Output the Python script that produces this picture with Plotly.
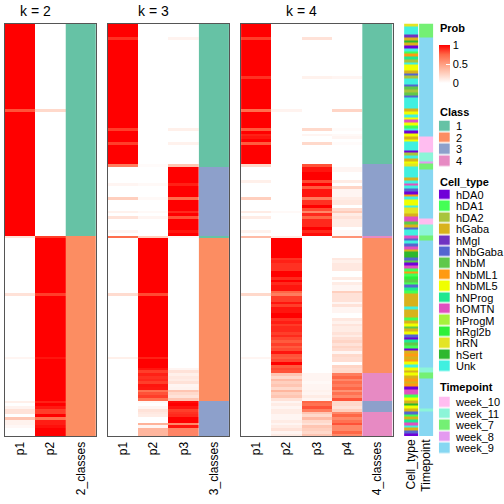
import plotly.graph_objects as go

N_ROWS = 150
FONT = "Liberation Sans, Arial, Helvetica, sans-serif"

prob_colorscale = [[0, "#ffffff"], [0.25, "#ffcfbe"], [0.5, "#ff9e81"], [0.75, "#ff6746"], [1, "#ff0000"]]

class_labels = ["1", "2", "3", "4"]
class_colors = ["#66c2a5", "#fc8d62", "#8da0cb", "#e78ac3"]

celltype_labels = ["hDA0", "hDA1", "hDA2", "hGaba", "hMgl", "hNbGaba", "hNbM", "hNbML1",
                   "hNbML5", "hNProg", "hOMTN", "hProgM", "hRgl2b", "hRN", "hSert", "Unk"]
celltype_colors = ["#7000d8", "#44ff55", "#a8c43c", "#d8b21c", "#7033c2", "#5466d0", "#60c84a", "#ff9a12",
                   "#f0ff00", "#20e890", "#e050c0", "#a6f23c", "#2ef03a", "#e4e424", "#2eb82e", "#40f0e0"]

timepoint_labels = ["week_10", "week_11", "week_7", "week_8", "week_9"]
timepoint_colors = ["#ffbdf0", "#8cf5d8", "#74f074", "#e49af0", "#87d7f2"]

# segments: (rows, class, p1, p2, ...)
k2_segments = [
    (31, 1, 1.0, 0.0), (1, 1, 0.8, 0.2), (45, 1, 1.0, 0.0),
    (1, 2, 0.15, 0.85), (20, 2, 0.0, 1.0), (1, 2, 0.15, 0.85), (22, 2, 0.0, 1.0),
    (1, 2, 0.05, 0.95), (15, 2, 0.0, 1.0), (1, 2, 0.08, 0.92), (1, 2, 0.0, 1.0),
    (1, 2, 0.06, 0.94), (2, 2, 0.15, 0.85), (1, 2, 0.0, 1.0), (1, 2, 0.3, 0.7),
    (2, 2, 0.07, 0.93), (1, 2, 0.04, 0.96), (3, 2, 0.0, 1.0),
]

k3_segments = [
    (5, 1, 1, 0, 0), (1, 1, 0.88, 0, 0.06), (32, 1, 1, 0, 0), (1, 1, 0.85, 0, 0.08),
    (4, 1, 1, 0, 0), (1, 1, 0.85, 0, 0.07), (7, 1, 1, 0, 0), (1, 1, 0.65, 0.02, 0.3),
    (6, 3, 0, 0, 1), (1, 3, 0.05, 0.03, 0.92), (4, 3, 0, 0, 1), (1, 3, 0.25, 0.03, 0.72),
    (4, 3, 0, 0, 1), (1, 3, 0.07, 0.03, 0.9), (1, 3, 0, 0, 1), (1, 3, 0.15, 0.05, 0.8),
    (4, 3, 0, 0, 1), (1, 3, 0.05, 0, 0.95), (1, 3, 0, 0, 1),
    (1, 1, 0.72, 0.25, 0.03),
    (20, 2, 0, 1, 0), (1, 2, 0.18, 0.82, 0), (22, 2, 0, 1, 0), (1, 2, 0.08, 0.92, 0),
    (3, 2, 0, 1, 0), (1, 2, 0, 0.95, 0.05), (1, 2, 0, 0.85, 0.15), (1, 2, 0, 0.92, 0.08),
    (1, 2, 0, 0.88, 0.12), (1, 2, 0, 0.9, 0.1), (1, 2, 0, 0.85, 0.15), (1, 2, 0, 0.95, 0.05),
    (1, 2, 0, 0.94, 0.06), (1, 2, 0, 0.7, 0.3), (1, 2, 0, 0.8, 0.2), (1, 2, 0, 0.85, 0.15),
    (1, 2, 0, 0.7, 0.3),
    (1, 3, 0, 0.03, 0.97), (1, 3, 0, 0, 1), (1, 3, 0, 0.05, 0.95), (1, 3, 0, 0.15, 0.85),
    (1, 3, 0, 0.12, 0.88), (1, 3, 0, 0.1, 0.9), (2, 3, 0, 0, 1), (1, 3, 0, 0.4, 0.6),
    (1, 3, 0, 0.05, 0.95), (3, 3, 0, 0.38, 0.62),
]

k4_segments = [
    (5, 1, 1, 0, 0, 0), (1, 1, 0.85, 0, 0.15, 0), (13, 1, 1, 0, 0, 0), (1, 1, 0.88, 0, 0.07, 0.05),
    (11, 1, 1, 0, 0, 0), (1, 1, 0.72, 0.06, 0, 0.22), (6, 1, 1, 0, 0, 0), (1, 1, 0.78, 0, 0.2, 0.02),
    (1, 1, 1, 0, 0, 0), (1, 1, 0.92, 0, 0.05, 0.03), (1, 1, 0.95, 0, 0, 0.05), (1, 1, 1, 0, 0, 0),
    (1, 1, 0.78, 0, 0.2, 0.02), (7, 1, 1, 0, 0, 0),
    (1, 3, 0.2, 0, 0.8, 0), (2, 3, 0, 0, 0.95, 0.05), (3, 3, 0, 0, 1, 0), (1, 3, 0.08, 0, 0.82, 0.1),
    (1, 3, 0, 0, 1, 0), (1, 3, 0, 0, 0.78, 0.22), (3, 3, 0, 0, 0.95, 0.05), (1, 3, 0.25, 0, 0.65, 0.1),
    (2, 3, 0, 0, 0.88, 0.12), (1, 3, 0, 0, 1, 0), (1, 3, 0, 0, 0.82, 0.18), (1, 3, 0.1, 0.03, 0.6, 0.27),
    (1, 3, 0, 0, 0.9, 0.1), (1, 3, 0.1, 0, 0.75, 0.15), (3, 3, 0, 0, 0.9, 0.1), (1, 3, 0, 0, 1, 0),
    (1, 3, 0.07, 0, 0.9, 0.03), (1, 3, 0, 0, 0.97, 0.03),
    (1, 4, 0.35, 0.1, 0, 0.55),
    (7, 2, 0, 1, 0, 0), (1, 2, 0, 0.88, 0, 0.12), (1, 2, 0, 0.92, 0, 0.08), (3, 2, 0, 0.88, 0, 0.12),
    (2, 2, 0, 1, 0, 0), (1, 2, 0, 0.9, 0, 0.1), (1, 2, 0, 1, 0, 0), (1, 2, 0, 0.9, 0, 0.1),
    (2, 2, 0, 0.95, 0, 0.05), (1, 2, 0, 0.75, 0, 0.25), (1, 2, 0.2, 0.65, 0, 0.15),
    (2, 2, 0, 0.85, 0, 0.15), (1, 2, 0, 0.95, 0, 0.05), (1, 2, 0, 0.85, 0, 0.15),
    (2, 2, 0, 0.95, 0, 0.05), (2, 2, 0, 1, 0, 0), (1, 2, 0, 0.88, 0, 0.12), (1, 2, 0, 0.93, 0, 0.07),
    (1, 2, 0, 0.86, 0, 0.14), (2, 2, 0, 0.9, 0, 0.1), (1, 2, 0, 0.85, 0, 0.15), (1, 2, 0, 0.9, 0, 0.1),
    (1, 2, 0, 0.83, 0, 0.17), (1, 2, 0, 0.78, 0, 0.22), (1, 2, 0, 0.85, 0, 0.15), (1, 2, 0, 0.78, 0, 0.22),
    (1, 2, 0, 0.82, 0, 0.18), (1, 2, 0, 0.95, 0, 0.05), (1, 2, 0, 0.8, 0, 0.2), (1, 2, 0.05, 0.78, 0, 0.17),
    (1, 2, 0, 0.83, 0, 0.17), (1, 2, 0, 1, 0, 0), (1, 2, 0, 0.78, 0, 0.22), (1, 2, 0, 0.82, 0, 0.18),
    (1, 2, 0, 0.8, 0, 0.2),
    (1, 4, 0, 0.3, 0.05, 0.65), (1, 4, 0, 0.2, 0.05, 0.75), (1, 4, 0, 0.35, 0.05, 0.6),
    (1, 4, 0, 0.25, 0.03, 0.72), (1, 4, 0, 0.3, 0.05, 0.65), (1, 4, 0, 0.2, 0.05, 0.75),
    (1, 4, 0, 0.38, 0.07, 0.55), (1, 4, 0, 0.25, 0.05, 0.7), (1, 4, 0, 0.3, 0.1, 0.6),
    (1, 4, 0, 0.15, 0.05, 0.8),
    (1, 3, 0, 0.05, 0.75, 0.2), (1, 3, 0, 0.1, 0.7, 0.2), (1, 3, 0, 0.05, 0.8, 0.15), (1, 3, 0, 0.1, 0.65, 0.25),
    (1, 4, 0, 0.1, 0.3, 0.6), (1, 4, 0, 0.05, 0.2, 0.75), (1, 4, 0, 0.05, 0.35, 0.6),
    (1, 4, 0, 0.1, 0.2, 0.7), (1, 4, 0, 0.05, 0.15, 0.8), (1, 4, 0, 0.1, 0.3, 0.6),
    (1, 4, 0, 0.15, 0.25, 0.6), (1, 4, 0, 0.05, 0.2, 0.75), (1, 4, 0, 0.1, 0.3, 0.6),
]

celltype_rows = [
    "hRN", "Unk", "Unk", "Unk", "hMgl", "hGaba", "hSert", "hGaba", "hDA0", "Unk",
    "hDA1", "hNbML1", "hNProg", "hDA2", "Unk", "hNbML5", "hNbML5", "hGaba", "hNbGaba", "hDA2",
    "Unk", "Unk", "hNbGaba", "hNbM", "hDA2", "hNbM", "hNbGaba", "Unk", "Unk", "Unk",
    "Unk", "hGaba", "hNbML5", "Unk", "hNbML5", "hOMTN", "hNbML5", "hDA1", "Unk", "hDA0",
    "hNbML5", "hGaba", "hNbML5", "Unk", "Unk", "Unk", "hDA0", "hDA2", "Unk", "hGaba",
    "hNbML5", "hRN", "Unk", "Unk", "Unk", "Unk", "hGaba", "Unk", "hOMTN", "Unk",
    "hNbGaba", "hDA0", "hNbML1", "Unk", "hNbML5", "hNbML5", "Unk", "hRN", "hRN", "hGaba",
    "hOMTN", "hOMTN", "hNbM", "hGaba", "hNbGaba", "Unk", "Unk", "hOMTN", "hNbGaba", "Unk",
    "hNbGaba", "hOMTN", "hGaba", "hSert", "hSert", "hNbGaba", "hNbM", "hDA0", "hOMTN", "hDA1",
    "hNbML1", "hDA1", "hRgl2b", "hNbM", "hDA1", "hNbGaba", "hNProg", "hDA1", "hGaba", "hGaba",
    "hGaba", "hGaba", "hGaba", "Unk", "hGaba", "hGaba", "hGaba", "hDA1", "hGaba", "hNbML5",
    "hNbM", "hGaba", "hNbML5", "hNbGaba", "hDA0", "hNProg", "hNbM", "hDA1", "hDA0", "hGaba",
    "hNbML1", "hGaba", "hNbML1", "hNbML5", "Unk", "hNbML5", "hGaba", "hNbML5", "hGaba", "hNbML1",
    "hGaba", "hNbML1", "hDA0", "hOMTN", "hOMTN", "hDA1", "hNbML5", "hGaba", "hSert", "hNbML5",
    "hGaba", "hNbGaba", "hDA1", "hGaba", "hNProg", "hOMTN", "Unk", "hGaba", "hNbGaba", "hDA0",
]

timepoint_runs = [
    ("week_7", 5), ("week_9", 36), ("week_10", 6), ("week_11", 3), ("week_8", 1), ("week_7", 2),
    ("week_9", 18), ("week_10", 2), ("week_11", 4), ("week_7", 2), ("week_9", 46), ("week_11", 2),
    ("week_7", 2), ("week_9", 11), ("week_11", 1), ("week_9", 9),
]


def expand(segments):
    rows = []
    for seg in segments:
        rows.extend([seg[1:]] * seg[0])
    return rows


def discrete_scale(colors):
    n = len(colors)
    cs = []
    for i, c in enumerate(colors):
        cs.append([i / n, c])
        cs.append([(i + 1) / n, c])
    return cs


W = H = 504


def xd(a, b):
    return [a / W, b / W]


def yd(top, bottom):
    return [1 - bottom / H, 1 - top / H]


PANEL_Y = yd(23.5, 436)
row_idx = list(range(N_ROWS))

fig = go.Figure()
layout = dict(
    width=W, height=H, margin=dict(l=0, r=0, t=0, b=0),
    paper_bgcolor="white", plot_bgcolor="white", showlegend=False,
    font=dict(family=FONT, color="black"),
)

panels = [
    ("k = 2", k2_segments, 2, 5.0, 96.7),
    ("k = 3", k3_segments, 3, 108.3, 230.7),
    ("k = 4", k4_segments, 4, 242.5, 395.0),
]

annotations = []
for i, (title, segs, k, x0, x1) in enumerate(panels, start=1):
    rows = expand(segs)
    z_prob = [list(r[1:]) for r in rows]
    z_cls = [[r[0] - 1] for r in rows]
    xa = "x" if i == 1 else f"x{i}"
    ya = "y" if i == 1 else f"y{i}"
    fig.add_trace(go.Heatmap(
        z=z_prob, x=list(range(k)), y=row_idx, xaxis=xa, yaxis=ya,
        colorscale=prob_colorscale, zmin=0, zmax=1, hoverinfo="skip",
        showscale=(i == 1),
        colorbar=dict(
            x=441.5 / W, xanchor="left", xpad=0, y=1 - 64 / H, yanchor="middle",
            lenmode="pixels", len=58, thicknessmode="pixels", thickness=11,
            tickvals=[0, 0.5, 1], ticktext=["0", "0.5", "1"], ticks="inside",
            ticklen=4, tickcolor="white", outlinewidth=0,
            tickfont=dict(size=11, family=FONT, color="black"),
        ),
    ))
    fig.add_trace(go.Heatmap(
        z=z_cls, x=[k], y=row_idx, xaxis=xa, yaxis=ya,
        colorscale=discrete_scale(class_colors), zmin=-0.5, zmax=len(class_colors) - 0.5,
        showscale=False, hoverinfo="skip",
    ))
    xname = "xaxis" if i == 1 else f"xaxis{i}"
    yname = "yaxis" if i == 1 else f"yaxis{i}"
    layout[xname] = dict(
        domain=xd(x0, x1), anchor=ya, range=[-0.5, k + 0.5],
        tickvals=list(range(k + 1)), ticktext=[f"p{j + 1}" for j in range(k)] + [f"{k}_classes"],
        tickangle=-90, ticks="", showgrid=False, zeroline=False,
        showline=True, mirror=True, linecolor="#555555", linewidth=1,
        tickfont=dict(size=12, family=FONT, color="black"), fixedrange=True,
    )
    layout[yname] = dict(
        domain=PANEL_Y, anchor=xa, range=[N_ROWS - 0.5, -0.5],
        showticklabels=False, ticks="", showgrid=False, zeroline=False,
        showline=True, mirror=True, linecolor="#555555", linewidth=1, fixedrange=True,
    )
    # title centred over the probability columns
    xc = (x0 + x0 + (x1 - x0) * k / (k + 1)) / 2
    annotations.append(dict(
        text=title, x=xc / W, y=1 - 10.5 / H, xref="paper", yref="paper",
        showarrow=False, xanchor="center", yanchor="middle",
        font=dict(size=14, family=FONT, color="black"),
    ))

# annotation columns: Cell_type and Timepoint
tp_rows = []
for name, n in timepoint_runs:
    tp_rows.extend([name] * n)
combo_colors = celltype_colors + timepoint_colors
z_ann = [[celltype_labels.index(c), len(celltype_labels) + timepoint_labels.index(t)]
         for c, t in zip(celltype_rows, tp_rows)]
fig.add_trace(go.Heatmap(
    z=z_ann, x=[0, 1], y=row_idx, xaxis="x4", yaxis="y4",
    colorscale=discrete_scale(combo_colors), zmin=-0.5, zmax=len(combo_colors) - 0.5,
    showscale=False, hoverinfo="skip", xgap=1,
))
layout["xaxis4"] = dict(
    domain=xd(406.5, 436.5), anchor="y4", range=[-0.5, 1.5],
    tickvals=[0, 1], ticktext=["Cell_type", "Timepoint"], tickangle=-90, ticks="",
    showgrid=False, zeroline=False, showline=False,
    tickfont=dict(size=12, family=FONT, color="black"), fixedrange=True,
)
layout["yaxis4"] = dict(
    domain=PANEL_Y, anchor="x4", range=[N_ROWS - 0.5, -0.5], visible=False, fixedrange=True,
)

# discrete legends drawn as small heatmaps with their labels as tick labels
legends = [
    ("Class", class_labels, class_colors, 120.5, 167.0, 111.5),
    ("Cell_type", celltype_labels, celltype_colors, 189.5, 372.0, 181.5),
    ("Timepoint", timepoint_labels, timepoint_colors, 396.5, 454.0, 386.5),
]
for j, (title, labels, colors, top, bottom, ty) in enumerate(legends, start=5):
    n = len(labels)
    fig.add_trace(go.Heatmap(
        z=[[i] for i in range(n)], x=[0], y=list(range(n)), xaxis=f"x{j}", yaxis=f"y{j}",
        colorscale=discrete_scale(colors), zmin=-0.5, zmax=n - 0.5,
        showscale=False, hoverinfo="skip", ygap=1.5,
    ))
    layout[f"xaxis{j}"] = dict(domain=xd(441.5, 452.5), anchor=f"y{j}", visible=False,
                               range=[-0.5, 0.5], fixedrange=True)
    layout[f"yaxis{j}"] = dict(
        domain=yd(top, bottom), anchor=f"x{j}", side="right", range=[n - 0.5, -0.5],
        tickvals=list(range(n)), ticktext=labels, ticks="outside", ticklen=3,
        tickcolor="rgba(0,0,0,0)", showgrid=False, zeroline=False,
        showline=False, tickfont=dict(size=11, family=FONT, color="black"), fixedrange=True,
    )
    annotations.append(dict(
        text=f"<b>{title}</b>", x=441 / W, y=1 - ty / H, xref="paper", yref="paper",
        showarrow=False, xanchor="left", yanchor="middle",
        font=dict(size=11, family=FONT, color="black"),
    ))

annotations.append(dict(
    text="<b>Prob</b>", x=441 / W, y=1 - 27.5 / H, xref="paper", yref="paper",
    showarrow=False, xanchor="left", yanchor="middle",
    font=dict(size=11, family=FONT, color="black"),
))

layout["annotations"] = annotations
fig.update_layout(**layout)
fig.write_html(
    "out.html",
    config={"displayModeBar": False},
    post_script="document.body.style.margin='0px';document.body.style.padding='0px';",
)
